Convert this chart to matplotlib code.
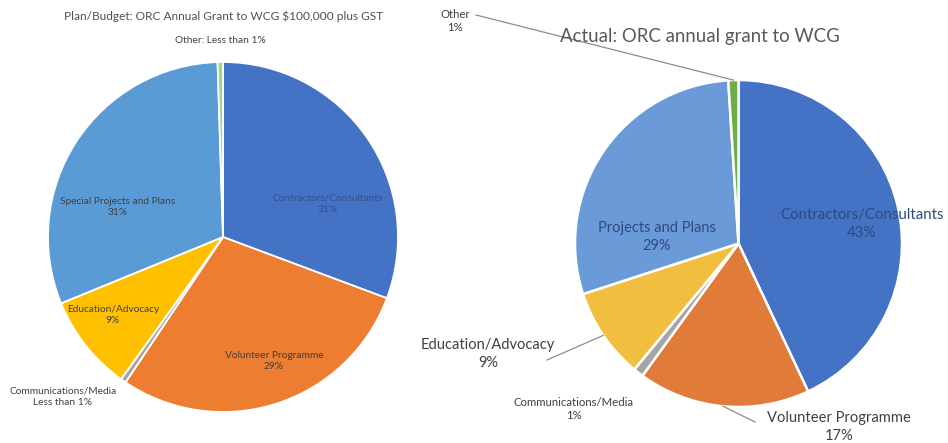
import matplotlib
matplotlib.use("Agg")
import matplotlib.pyplot as plt
import numpy as np

# Planned budget split
plan_labels = ["Contractors/Consultants", "Volunteer Programme", "Communications/Media",
               "Education/Advocacy", "Special Projects and Plans", "Other"]
plan_values = [31, 29, 0.5, 9, 31, 0.5]
plan_text = ["31%", "29%", "Less than 1%", "9%", "31%", "Less than 1%"]
plan_colors = ["#4472C4", "#ED7D31", "#A5A5A5", "#FFC000", "#5B9BD5", "#A9D18E"]

# Actual spend split
actual_labels = ["Contractors/Consultants", "Volunteer Programme", "Communications/Media",
                 "Education/Advocacy", "Projects and Plans", "Other"]
actual_values = [43, 17, 1, 9, 29, 1]
actual_colors = ["#4472C4", "#E07B39", "#A5A5A5", "#F2BE40", "#6A9BD8", "#70AD47"]

W, H = 948, 443
FONT = ["Lato", "DejaVu Sans"]
TXT = "#404040"

fig = plt.figure(figsize=(W / 100, H / 100), dpi=100)
ax = fig.add_axes([0, 0, 1, 1])


def py(y):
    return H - y


# pies
pl_center, pl_r = (223, py(237)), 175
ac_center, ac_r = (738.5, py(243.5)), 163.5

wl, _ = ax.pie(plan_values, colors=plan_colors, startangle=90, counterclock=False,
               center=pl_center, radius=pl_r,
               wedgeprops=dict(edgecolor="white", linewidth=1.3))
wa, _ = ax.pie(actual_values, colors=actual_colors, startangle=90, counterclock=False,
               center=ac_center, radius=ac_r,
               wedgeprops=dict(edgecolor="white", linewidth=1.8))

ax.set_xlim(0, W)
ax.set_ylim(0, H)
ax.set_aspect("equal")
ax.axis("off")


def edge_point(w, center, r):
    mid = np.deg2rad((w.theta1 + w.theta2) / 2)
    return center[0] + r * np.cos(mid), center[1] + r * np.sin(mid)


# titles
ax.text(224, py(16), "Plan/Budget: ORC Annual Grant to WCG $100,000 plus GST",
        ha="center", va="center", fontsize=8.6, color="#505050", family=FONT)
ax.text(700, py(36), "Actual: ORC annual grant to WCG",
        ha="center", va="center", fontsize=13.4, color="#595959", family=FONT)

# plan labels
small = 7.3
plan_pos = [(328, 204), (274, 361), (63, 397), (113, 315), (118, 207), (220, 40)]
for i, (x, y) in enumerate(plan_pos):
    col = "#34528F" if i == 0 else TXT
    if i == 5:
        s = f"{plan_labels[i]}: {plan_text[i]}"
    else:
        s = f"{plan_labels[i]}\n{plan_text[i]}"
    ax.text(x, py(y), s, ha="center", va="center", fontsize=small, color=col,
            family=FONT, linespacing=1.35)

# actual labels
actual_pos = [(862, 224), (839, 427), (574, 409), (488, 354), (657, 237), (455, 21)]
actual_size = [10.8, 10.6, 8.2, 10.5, 10.5, 8.2]
for i, (x, y) in enumerate(actual_pos):
    col = "#2F4A80" if i in (0, 4) else TXT
    ax.text(x, py(y), f"{actual_labels[i]}\n{actual_values[i]}%", ha="center",
            va="center", fontsize=actual_size[i], color=col, family=FONT,
            linespacing=1.3)

# leader lines for the outside labels
leaders = {5: [(476, 15)], 3: [(547, 360)], 1: [(755, 422)]}
for i, pts in leaders.items():
    ex, ey = edge_point(wa[i], ac_center, ac_r)
    xs = [ex] + [p[0] for p in pts]
    ys = [ey] + [py(p[1]) for p in pts]
    ax.plot(xs, ys, color="#8C8C8C", linewidth=0.9)

fig.savefig("out.png", dpi=100)
